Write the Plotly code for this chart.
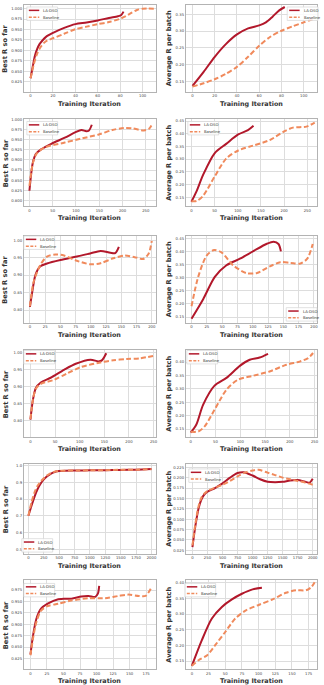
import plotly.graph_objects as go

# ---------------- data ----------------
series_names = ["LA-DSO", "Baseline"]
y_titles = ["Best R so far", "Average R per batch"]
x_title = "Training Iteration"

# panel 1 (row 1, best R)
p1_la_x = [0, 2, 4, 6, 8, 10, 14, 20, 30, 40, 50, 60, 70, 78, 81, 83]
p1_la_y = [0.833, 0.862, 0.888, 0.904, 0.915, 0.922, 0.933, 0.942, 0.954, 0.963, 0.967, 0.972, 0.978, 0.982, 0.985, 0.993]
p1_bl_x = [0, 3, 6, 9, 12, 15, 20, 30, 40, 50, 60, 70, 80, 85, 90, 95, 100, 110]
p1_bl_y = [0.833, 0.868, 0.893, 0.908, 0.918, 0.924, 0.929, 0.940, 0.951, 0.957, 0.963, 0.968, 0.976, 0.982, 0.990, 0.997, 1.000, 1.000]
# panel 2 (row 1, average R)
p2_la_x = [0, 10, 20, 30, 40, 50, 60, 66, 72, 78, 83]
p2_la_y = [0.136, 0.178, 0.223, 0.261, 0.290, 0.308, 0.317, 0.326, 0.343, 0.362, 0.372]
p2_bl_x = [0, 10, 20, 30, 40, 50, 60, 70, 80, 90, 100, 110]
p2_bl_y = [0.134, 0.144, 0.156, 0.172, 0.193, 0.223, 0.256, 0.283, 0.301, 0.314, 0.326, 0.338]
# panel 3 (row 2, best R)
p3_la_x = [0, 3, 7, 14, 25, 47, 76, 98, 112, 122, 128, 134]
p3_la_y = [0.824, 0.858, 0.892, 0.915, 0.926, 0.940, 0.955, 0.968, 0.974, 0.971, 0.973, 0.987]
p3_bl_x = [0, 4, 8, 15, 33, 76, 112, 149, 178, 203, 221, 246, 257, 264]
p3_bl_y = [0.836, 0.870, 0.895, 0.915, 0.931, 0.943, 0.953, 0.963, 0.974, 0.979, 0.978, 0.973, 0.977, 0.989]
# panel 4 (row 2, average R)
p4_la_x = [0, 11, 25, 50, 75, 101, 122, 134]
p4_la_y = [0.132, 0.173, 0.237, 0.323, 0.360, 0.397, 0.414, 0.431]
p4_bl_x = [0, 11, 25, 50, 75, 101, 133, 169, 201, 219, 248, 266]
p4_bl_y = [0.134, 0.135, 0.155, 0.231, 0.302, 0.334, 0.353, 0.375, 0.410, 0.424, 0.428, 0.444]
# panel 5 (row 3, best R)
p5_la_x = [0, 4, 9, 17, 28, 50, 77, 99, 116, 132, 140, 146]
p5_la_y = [0.809, 0.854, 0.900, 0.925, 0.933, 0.943, 0.953, 0.962, 0.969, 0.964, 0.963, 0.981]
p5_bl_x = [0, 6, 17, 28, 42, 56, 77, 99, 116, 137, 156, 175, 186, 195, 200]
p5_bl_y = [0.811, 0.880, 0.929, 0.953, 0.959, 0.956, 0.941, 0.931, 0.934, 0.948, 0.956, 0.950, 0.946, 0.962, 0.998]
# panel 6 (row 3, average R)
p6_la_x = [0, 19, 38, 57, 79, 101, 123, 134, 142, 146]
p6_la_y = [0.144, 0.218, 0.303, 0.347, 0.372, 0.401, 0.429, 0.437, 0.428, 0.400]
p6_bl_x = [0, 11, 25, 37, 49, 68, 90, 107, 129, 145, 162, 178, 189, 198]
p6_bl_y = [0.191, 0.304, 0.385, 0.405, 0.396, 0.347, 0.317, 0.318, 0.344, 0.359, 0.356, 0.354, 0.372, 0.428]
# panel 7 (row 4, best R)
p7_la_x = [0, 5, 11, 21, 41, 68, 92, 122, 138, 145, 154]
p7_la_y = [0.802, 0.860, 0.895, 0.911, 0.925, 0.948, 0.966, 0.978, 0.973, 0.976, 0.997]
p7_bl_x = [0, 5, 11, 21, 48, 75, 102, 142, 168, 195, 222, 249]
p7_bl_y = [0.804, 0.860, 0.893, 0.907, 0.919, 0.938, 0.956, 0.970, 0.976, 0.980, 0.982, 0.989]
# panel 8 (row 4, average R)
p8_la_x = [0, 11, 25, 48, 72, 99, 119, 139, 156]
p8_la_y = [0.137, 0.166, 0.241, 0.312, 0.341, 0.386, 0.409, 0.417, 0.431]
p8_bl_x = [0, 15, 28, 48, 72, 95, 126, 159, 193, 220, 237, 247]
p8_bl_y = [0.140, 0.141, 0.160, 0.222, 0.297, 0.334, 0.349, 0.365, 0.390, 0.402, 0.415, 0.434]
# panel 9 (row 5, best R)
p9_la_x = [0, 50, 100, 150, 200, 250, 300, 350, 400, 450, 500, 600, 800, 1000, 1250, 1500, 1750, 2000]
p9_la_y = [0.700, 0.760, 0.815, 0.860, 0.893, 0.918, 0.935, 0.948, 0.958, 0.965, 0.968, 0.970, 0.971, 0.972, 0.973, 0.974, 0.976, 0.980]
p9_bl_x = [0, 50, 100, 150, 200, 250, 300, 350, 400, 450, 500, 600, 800, 1000, 1250, 1500, 1750, 2000]
p9_bl_y = [0.700, 0.780, 0.840, 0.880, 0.905, 0.925, 0.940, 0.952, 0.960, 0.966, 0.969, 0.970, 0.971, 0.972, 0.973, 0.975, 0.976, 0.979]
# panel 10 (row 5, average R)
p10_la_x = [0, 50, 100, 150, 200, 250, 375, 500, 625, 750, 850, 1000, 1125, 1250, 1375, 1500, 1625, 1750, 1875, 1950, 2000]
p10_la_y = [0.033, 0.085, 0.125, 0.148, 0.160, 0.166, 0.175, 0.186, 0.200, 0.211, 0.213, 0.205, 0.196, 0.190, 0.189, 0.190, 0.193, 0.194, 0.190, 0.188, 0.197]
p10_bl_x = [0, 50, 100, 150, 200, 250, 375, 500, 625, 750, 875, 1000, 1100, 1250, 1375, 1500, 1625, 1750, 1875, 2000]
p10_bl_y = [0.037, 0.090, 0.130, 0.152, 0.162, 0.168, 0.176, 0.183, 0.192, 0.203, 0.212, 0.217, 0.219, 0.212, 0.206, 0.200, 0.196, 0.192, 0.188, 0.183]
# panel 11 (row 6, best R)
p11_la_x = [0, 4, 9, 16, 26, 42, 62, 77, 88, 98, 102, 104]
p11_la_y = [0.834, 0.876, 0.912, 0.934, 0.945, 0.955, 0.956, 0.961, 0.962, 0.960, 0.967, 0.984]
p11_bl_x = [0, 4, 9, 16, 26, 42, 62, 88, 113, 133, 148, 164, 174, 182]
p11_bl_y = [0.832, 0.870, 0.905, 0.930, 0.940, 0.945, 0.952, 0.957, 0.957, 0.962, 0.965, 0.962, 0.962, 0.978]
# panel 12 (row 6, average R)
p12_la_x = [0, 15, 30, 45, 60, 75, 91, 105]
p12_la_y = [0.135, 0.217, 0.286, 0.323, 0.347, 0.365, 0.379, 0.384]
p12_bl_x = [0, 10, 23, 35, 50, 65, 81, 101, 121, 141, 156, 171, 179, 184]
p12_bl_y = [0.135, 0.153, 0.169, 0.201, 0.243, 0.286, 0.312, 0.330, 0.347, 0.368, 0.376, 0.376, 0.386, 0.402]

# axis ranges / ticks per panel
x_ranges = [[-6, 112], [-6, 112], [-12, 272], [-12, 271], [-10, 207], [-9.3, 205],
            [-13.4, 255], [-10, 255], [-74, 2074], [-110, 2072], [-10, 190], [-9, 187.6]]
y_ranges = [[0.801, 1.009], [0.119, 0.378], [0.786, 1.0], [0.115, 0.456], [0.764, 1.012], [0.129, 0.4586],
            [0.751, 1.005], [0.12, 0.4435], [0.474, 1.01], [0.0173, 0.2328], [0.8017, 0.996], [0.1247, 0.4074]]
x_dticks = [20, 20, 50, 50, 25, 25, 50, 50, 250, 250, 25, 25]
y_ticks0 = [0.825, 0.15, 0.800, 0.15, 0.80, 0.15, 0.80, 0.15, 0.5, 0.025, 0.825, 0.15]
y_dticks = [0.025, 0.05, 0.025, 0.05, 0.05, 0.05, 0.05, 0.05, 0.1, 0.025, 0.025, 0.05]
y_formats = [".3f", ".2f", ".3f", ".2f", ".2f", ".2f", ".2f", ".2f", ".1f", ".3f", ".3f", ".2f"]

# legend box positions (pixels, left/top)
legend_pos = [(27, 4), (289, 4), (27, 119), (189, 119), (24, 234), (288, 306),
              (24, 349), (188, 349), (22, 538), (190, 468), (24, 583), (186, 583)]

panels = [
    (p1_la_x, p1_la_y, p1_bl_x, p1_bl_y), (p2_la_x, p2_la_y, p2_bl_x, p2_bl_y),
    (p3_la_x, p3_la_y, p3_bl_x, p3_bl_y), (p4_la_x, p4_la_y, p4_bl_x, p4_bl_y),
    (p5_la_x, p5_la_y, p5_bl_x, p5_bl_y), (p6_la_x, p6_la_y, p6_bl_x, p6_bl_y),
    (p7_la_x, p7_la_y, p7_bl_x, p7_bl_y), (p8_la_x, p8_la_y, p8_bl_x, p8_bl_y),
    (p9_la_x, p9_la_y, p9_bl_x, p9_bl_y), (p10_la_x, p10_la_y, p10_bl_x, p10_bl_y),
    (p11_la_x, p11_la_y, p11_bl_x, p11_bl_y), (p12_la_x, p12_la_y, p12_bl_x, p12_bl_y),
]

# ---------------- layout geometry ----------------
W, H = 324, 685
col_px = [(24, 157), (187, 319)]
row_px = [(2, 89), (117, 204), (234, 321), (349, 436), (463, 553), (580, 669)]
C_LA = "#b2182b"
C_BL = "#f08a5c"
FONT = "DejaVu Sans"


def fx(p):
    return p / W


def fy(p):
    return 1 - p / H


fig = go.Figure()
layout = dict(
    width=W, height=H, margin=dict(l=0, r=0, t=0, b=0),
    paper_bgcolor="white", plot_bgcolor="white", showlegend=False,
    font=dict(family=FONT, color="#333333"),
)
shapes = []
annotations = []

for i, (lax, lay, blx, bly) in enumerate(panels):
    n = i + 1
    r, c = divmod(i, 2)
    xk = "xaxis" if n == 1 else f"xaxis{n}"
    yk = "yaxis" if n == 1 else f"yaxis{n}"
    xref = "x" if n == 1 else f"x{n}"
    yref = "y" if n == 1 else f"y{n}"
    x0p, x1p = col_px[c]
    y0p, y1p = row_px[r]
    axis_common = dict(
        showline=True, mirror=True, linecolor="#b3b3b3", linewidth=1,
        showgrid=True, gridcolor="#dddddd", gridwidth=1, zeroline=False,
        ticks="", tickfont=dict(size=3.8, family=FONT, color="#444444"),
    )
    layout[xk] = dict(axis_common, domain=[fx(x0p), fx(x1p)], anchor=yref,
                      range=x_ranges[i], tick0=0, dtick=x_dticks[i])
    layout[yk] = dict(axis_common, domain=[fy(y1p), fy(y0p)], anchor=xref,
                      range=y_ranges[i], tick0=y_ticks0[i], dtick=y_dticks[i],
                      tickformat=y_formats[i])
    fig.add_trace(go.Scatter(x=lax, y=lay, mode="lines", name=series_names[0],
                             line=dict(color=C_LA, width=2, shape="spline", smoothing=0.8),
                             xaxis=xref, yaxis=yref))
    fig.add_trace(go.Scatter(x=blx, y=bly, mode="lines", name=series_names[1],
                             line=dict(color=C_BL, width=2, dash="5px,2.5px", shape="spline", smoothing=0.8),
                             xaxis=xref, yaxis=yref))
    # axis titles
    annotations.append(dict(text=f"<b>{x_title}</b>", x=fx((x0p + x1p) / 2), y=fy(y1p + 12),
                            xref="paper", yref="paper", showarrow=False,
                            xanchor="center", yanchor="middle",
                            font=dict(size=6.4, family=FONT, color="#333333")))
    annotations.append(dict(text=f"<b>{y_titles[c]}</b>", x=fx(5.5 if c == 0 else 170),
                            y=fy((y0p + y1p) / 2), xref="paper", yref="paper", showarrow=False,
                            textangle=-90, xanchor="center", yanchor="middle",
                            font=dict(size=6.6, family=FONT, color="#333333")))
    # legend box
    lx, ly = legend_pos[i]
    shapes.append(dict(type="rect", xref="paper", yref="paper",
                       x0=fx(lx), x1=fx(lx + 31), y0=fy(ly + 13.5), y1=fy(ly),
                       fillcolor="rgba(255,255,255,0.85)", line=dict(color="#d6d6d6", width=0.7)))
    for k, (nm, col, dash) in enumerate([(series_names[0], C_LA, "solid"), (series_names[1], C_BL, "3px,1.5px")]):
        yy = ly + 3.4 + k * 6.8
        shapes.append(dict(type="line", xref="paper", yref="paper",
                           x0=fx(lx + 2), x1=fx(lx + 12.5), y0=fy(yy), y1=fy(yy),
                           line=dict(color=col, width=1.5, dash=dash)))
        annotations.append(dict(text=nm, x=fx(lx + 14.5), y=fy(yy), xref="paper", yref="paper",
                                showarrow=False, xanchor="left", yanchor="middle",
                                font=dict(size=3.8, family=FONT, color="#333333")))

layout["shapes"] = shapes
layout["annotations"] = annotations
fig.update_layout(**layout)
fig.write_html("out.html", config={"displayModeBar": False, "staticPlot": True},
               post_script="document.body.style.margin='0';document.body.style.overflow='hidden';")
